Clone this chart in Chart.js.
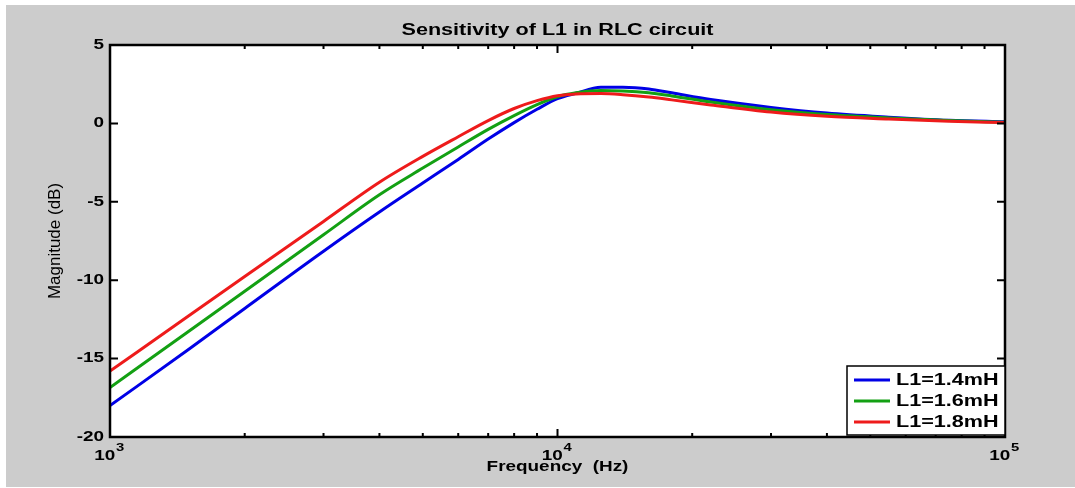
<!DOCTYPE html>
<html>
<head>
<meta charset="utf-8">
<script src="https://cdn.jsdelivr.net/npm/chart.js@4.4.1/dist/chart.umd.min.js"></script>
<style>
  html, body { margin: 0; padding: 0; background: #ffffff; overflow: hidden; }
  canvas { display: block; }
</style>
</head>
<body>
<canvas id="c" width="1075" height="488"></canvas>
<script>
// ---------------- data ----------------
const chartTitle = 'Sensitivity of L1 in RLC circuit';
const xAxisTitle = 'Frequency  (Hz)';
const yAxisTitle = 'Magnitude (dB)';
const seriesLabels = ['L1=1.4mH', 'L1=1.6mH', 'L1=1.8mH'];
const seriesColors = ['#0000e6', '#13a013', '#ee1b1b'];

const frequencies = [1000, 1500, 2000, 3000, 4000, 5000, 6000, 7000, 8000, 9000, 10000,
                     11000, 12500, 14000, 16000, 18000, 22000, 30000, 40000, 55000, 75000, 100000];
const magL14 = [-18.0, -14.4, -11.8, -8.15, -5.65, -3.8, -2.3, -1.0, 0.05, 0.9, 1.58,
                1.92, 2.3, 2.31, 2.2, 1.95, 1.52, 1.02, 0.66, 0.4, 0.2, 0.1];
const magL16 = [-16.85, -13.25, -10.7, -7.1, -4.55, -2.85, -1.5, -0.38, 0.5, 1.2, 1.7,
                1.95, 2.1, 2.07, 1.95, 1.75, 1.36, 0.87, 0.56, 0.35, 0.18, 0.08];
const magL18 = [-15.8, -12.27, -9.77, -6.25, -3.75, -2.1, -0.85, 0.18, 0.95, 1.45, 1.77,
                1.88, 1.9, 1.83, 1.68, 1.5, 1.18, 0.72, 0.45, 0.28, 0.14, 0.05];

const xTickValues = [1000, 10000, 100000];
const xTickBases = ['10', '10', '10'];
const xTickExponents = ['3', '4', '5'];
const xMinorTickValues = [2000, 3000, 4000, 5000, 6000, 7000, 8000, 9000,
                          20000, 30000, 40000, 50000, 60000, 70000, 80000, 90000];
const yTicks = [-20, -15, -10, -5, 0, 5];

// ---------------- text stretch (reference text is horizontally wide) ----------------
const SX = 1.35;
const canvas = document.getElementById('c');
const ctx0 = canvas.getContext('2d');
const origFillText = CanvasRenderingContext2D.prototype.fillText;
ctx0.fillText = function (t, x, y, mw) {
  const m = this.getTransform();
  const call = () => (mw === undefined ? origFillText.call(this, t, x, y) : origFillText.call(this, t, x, y, mw));
  if (Math.abs(m.b) > 1e-6 || Math.abs(m.c) > 1e-6) { return call(); }
  const p = m.transformPoint(new DOMPoint(x, y));
  this.save();
  this.setTransform(new DOMMatrix([SX, 0, 0, 1, p.x * (1 - SX), 0]).multiply(m));
  call();
  this.restore();
};

const FONT = "'Liberation Sans', Arial, Helvetica, sans-serif";

// ---------------- plugin: background, frame, ticks, labels, legend ----------------
const matlabPlugin = {
  id: 'matlabLook',
  beforeDraw(chart) {
    const ctx = chart.ctx;
    const a = chart.chartArea;
    const W = canvas.width, H = canvas.height;
    ctx.save();
    ctx.fillStyle = '#ffffff';
    ctx.fillRect(0, 0, W, H);
    ctx.fillStyle = '#cccccc';
    ctx.fillRect(6, 5, W - 6, H - 6);
    ctx.fillStyle = '#ffffff';
    ctx.fillRect(a.left, a.top, a.right - a.left, a.bottom - a.top);
    ctx.restore();
  },
  afterDraw(chart) {
    const ctx = chart.ctx;
    const a = chart.chartArea;
    const xs = chart.scales.x, ys = chart.scales.y;
    ctx.save();

    // title (centred over the axes, as MATLAB does)
    ctx.fillStyle = '#000000';
    ctx.font = 'bold 16px ' + FONT;
    ctx.textAlign = 'center';
    ctx.textBaseline = 'middle';
    ctx.fillText(chartTitle, (a.left + a.right) / 2, 31);

    // x tick labels 10^n
    xTickValues.forEach((v, i) => {
      const px = xs.getPixelForValue(v);
      ctx.font = 'bold 14px ' + FONT;
      const wb = ctx.measureText(xTickBases[i]).width * SX;
      ctx.font = 'bold 11px ' + FONT;
      const we = ctx.measureText(xTickExponents[i]).width * SX;
      const x0 = px - (wb + we) / 2 - 1;
      ctx.textAlign = 'left';
      ctx.textBaseline = 'alphabetic';
      ctx.font = 'bold 14px ' + FONT;
      ctx.fillText(xTickBases[i], x0, a.bottom + 23);
      ctx.font = 'bold 11px ' + FONT;
      ctx.fillText(xTickExponents[i], x0 + wb + 0.5, a.bottom + 14);
    });

    ctx.strokeStyle = '#000000';
    // ticks (inward)
    ctx.lineWidth = 2;
    ctx.beginPath();
    yTicks.forEach(v => {
      const py = ys.getPixelForValue(v);
      ctx.moveTo(a.left, py); ctx.lineTo(a.left + 8, py);
      ctx.moveTo(a.right, py); ctx.lineTo(a.right - 8, py);
    });
    xTickValues.forEach(v => {
      const px = xs.getPixelForValue(v);
      ctx.moveTo(px, a.bottom); ctx.lineTo(px, a.bottom - 8);
      ctx.moveTo(px, a.top); ctx.lineTo(px, a.top + 8);
    });
    xMinorTickValues.forEach(v => {
      const px = xs.getPixelForValue(v);
      ctx.moveTo(px, a.bottom); ctx.lineTo(px, a.bottom - 4);
      ctx.moveTo(px, a.top); ctx.lineTo(px, a.top + 4);
    });
    ctx.stroke();
    // frame
    ctx.lineWidth = 2.5;
    ctx.strokeRect(a.left, a.top, a.right - a.left, a.bottom - a.top);

    // legend
    const bw = 158, bh = 69;
    const bx = a.right - bw, by = a.bottom - bh - 2;
    ctx.fillStyle = '#ffffff';
    ctx.fillRect(bx, by, bw, bh);
    ctx.lineWidth = 1.5;
    ctx.strokeRect(bx, by, bw, bh);
    ctx.font = 'bold 16px ' + FONT;
    ctx.textAlign = 'left';
    ctx.textBaseline = 'middle';
    chart.data.datasets.forEach((ds, i) => {
      const ry = by + 14 + i * 21;
      ctx.strokeStyle = ds.borderColor;
      ctx.lineWidth = 3;
      ctx.beginPath();
      ctx.moveTo(bx + 7, ry); ctx.lineTo(bx + 43, ry);
      ctx.stroke();
      ctx.fillStyle = '#000000';
      ctx.fillText(ds.label, bx + 49, ry + 1);
    });
    ctx.restore();
  }
};

const mk = (vals) => frequencies.map((f, i) => ({ x: f, y: vals[i] }));
const seriesValues = [magL14, magL16, magL18];

new Chart(ctx0, {
  type: 'line',
  data: {
    datasets: seriesValues.map((vals, i) => ({
      label: seriesLabels[i],
      data: mk(vals),
      borderColor: seriesColors[i],
      backgroundColor: seriesColors[i],
      borderWidth: 3,
      pointRadius: 0,
      fill: false,
      cubicInterpolationMode: 'monotone',
      order: 3 - i
    }))
  },
  options: {
    responsive: false,
    animation: false,
    devicePixelRatio: 1,
    layout: { padding: { left: 0, right: 70, top: 45, bottom: 0 } },
    plugins: {
      legend: { display: false },
      tooltip: { enabled: false },
      title: { display: false }
    },
    scales: {
      x: {
        type: 'logarithmic',
        min: 1000,
        max: 100000,
        afterBuildTicks: (s) => { s.ticks = xTickValues.map(v => ({ value: v })); },
        ticks: { display: false },
        grid: { display: false, drawTicks: false },
        border: { display: false },
        title: {
          display: true,
          text: xAxisTitle,
          color: '#000000',
          font: { family: FONT, size: 14, weight: 'bold' },
          padding: { top: 0, bottom: 12 }
        },
        afterFit: (s) => { s.height = 51; }
      },
      y: {
        min: -20,
        max: 5,
        afterBuildTicks: (s) => { s.ticks = yTicks.map(v => ({ value: v })); },
        ticks: {
          color: '#000000',
          font: { family: FONT, size: 14, weight: 'bold' },
          padding: 6
        },
        grid: { display: false, drawTicks: false },
        border: { display: false },
        title: {
          display: true,
          text: yAxisTitle,
          color: '#000000',
          font: { family: FONT, size: 17, weight: 'normal' },
          padding: { top: 45, bottom: 0 }
        },
        afterFit: (s) => { s.width = 110; }
      }
    }
  },
  plugins: [matlabPlugin]
});
</script>
</body>
</html>
